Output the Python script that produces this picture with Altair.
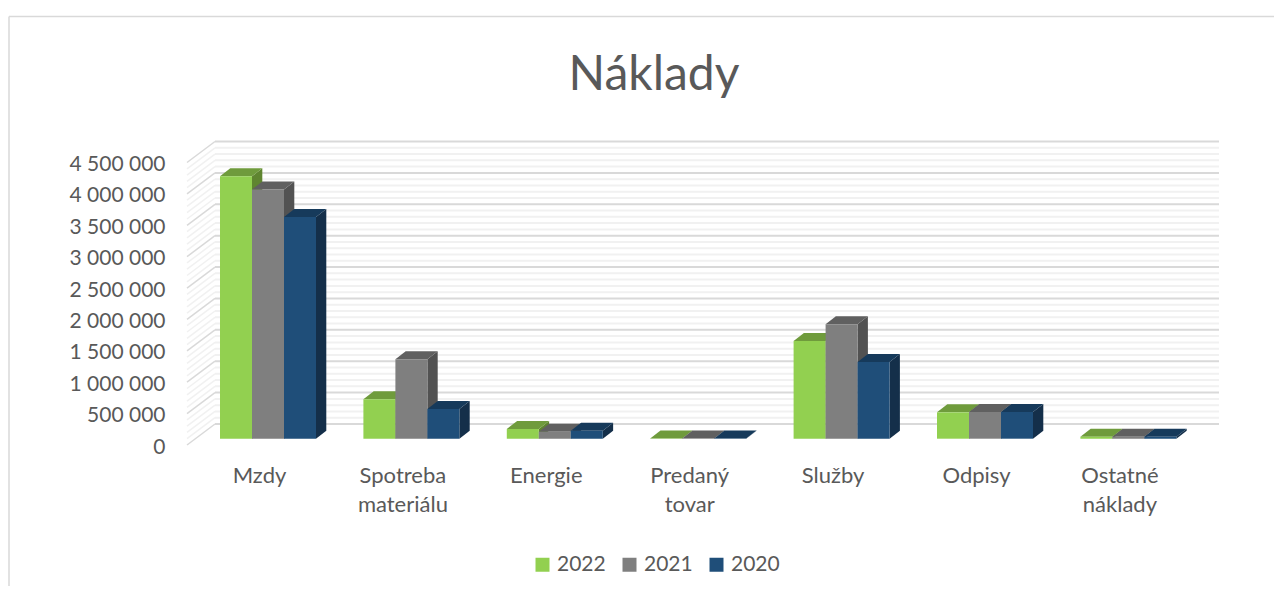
import json
import altair as alt
import pandas as pd

categories = [["Mzdy"], ["Spotreba", "materiálu"], ["Energie"], ["Predaný", "tovar"],
              ["Služby"], ["Odpisy"], ["Ostatné", "náklady"]]
series = ["2022", "2021", "2020"]
v2022 = [4180000, 628000, 155000, 5000, 1556000, 420000, 30000]
v2021 = [3970000, 1265000, 111000, 5000, 1822000, 425000, 30000]
v2020 = [3530000, 473000, 127000, 5000, 1220000, 425000, 30000]
values = {"2022": v2022, "2021": v2021, "2020": v2020}
front_colors = ["#92D050", "#7F7F7F", "#1F4E79"]
top_colors = ["#6F9B3C", "#606060", "#163A5B"]
side_colors = ["#5F8530", "#525252", "#142F4A"]
major_ticks = [0, 500000, 1000000, 1500000, 2000000, 2500000, 3000000, 3500000, 4000000, 4500000]
minor_ticks = [100000 * i for i in range(46) if i % 5 != 0]

TEXT = "#595959"
FONT = "Lato"
PW, PH = 1032, 304            # plot area in px
PX_PER_VALUE = 282.5 / 4500000
PX_PER_SLOT = 143.4


def vpx(p):
    return p / PX_PER_VALUE


def xpx(p):
    return p / PX_PER_SLOT


x_dom = [xpx(187 - 260), xpx(1219 - 260)]
y_dom = [0, vpx(PH)]
xs = alt.Scale(domain=x_dom, nice=False, zero=False)
ys = alt.Scale(domain=y_dom, nice=False, zero=False)

xa = alt.Axis(title=None, values=list(range(7)), domain=False, ticks=False, grid=False,
              labelExpr=json.dumps(categories) + "[datum.value]",
              labelFont=FONT, labelFontSize=22, labelColor=TEXT, labelPadding=20, labelOffset=-1,
              labelLineHeight=29, labelAngle=0, labelAlign="center", labelBaseline="top",
              labelFlush=False, labelOverlap=False)
ya = alt.Axis(title=None, values=major_ticks, domain=False, ticks=False, grid=False,
              labelExpr="replace(format(datum.value, ','), regexp(',', 'g'), ' ')",
              labelFont=FONT, labelFontSize=21, labelColor=TEXT, labelPadding=22, labelOffset=2,
              labelOverlap=False, labelFlush=False)


def X(f):
    return alt.X(f + ":Q", scale=xs, axis=xa)


def Y(f):
    return alt.Y(f + ":Q", scale=ys, axis=ya)


X2 = lambda f: alt.X2(f)
Y2 = lambda f: alt.Y2(f)

# walls
WALL_DX, WALL_DY = xpx(28), vpx(21)
grid_rows = []
for kind, ticks in (("minor", minor_ticks), ("major", major_ticks)):
    for t in ticks:
        grid_rows.append(dict(kind=kind, v=t, back=t + WALL_DY))
grid = pd.DataFrame(grid_rows)
x_left = x_dom[0]
grid["xl"] = x_left
grid["xb"] = x_left + WALL_DX
grid["xr"] = x_dom[1]


def wall(kind, color):
    d = grid[grid.kind == kind]
    back = alt.Chart(d).mark_rule(color=color, strokeWidth=2).encode(
        x=X("xb"), x2=X2("xr"), y=Y("back"))
    side = alt.Chart(d).mark_rule(color=color, strokeWidth=1.5).encode(
        x=X("xl"), x2=X2("xb"), y=Y("v"), y2=Y2("back"))
    return [back, side]


# bars
BAR_W = xpx(32)
BAR_L = xpx(220 - 260)
BASE = vpx(6.3)
DX, DY = xpx(10.3), vpx(8)

layers = wall("minor", "#F1F1F1") + wall("major", "#D9D9D9")

front_scale = alt.Scale(domain=series, range=front_colors)
for si, s in enumerate(series):
    front, sides, tops = [], [], []
    for ci, v in enumerate(values[s]):
        l = ci + BAR_L + si * BAR_W
        r = l + BAR_W
        b, t = BASE, BASE + v
        front.append(dict(series=s, l=l, r=r, b=b, t=t))
        sides += [dict(bar=ci, px=r, lo=b, hi=t),
                  dict(bar=ci, px=r + DX, lo=b + DY, hi=t + DY)]
        tops += [dict(bar=ci, px=l, lo=t, hi=t),
                 dict(bar=ci, px=l + DX, lo=t, hi=t + DY),
                 dict(bar=ci, px=r, lo=t, hi=t + DY),
                 dict(bar=ci, px=r + DX, lo=t + DY, hi=t + DY)]
    for rows, col in ((sides, side_colors[si]), (tops, top_colors[si])):
        layers.append(alt.Chart(pd.DataFrame(rows)).mark_area(color=col, interpolate="linear").encode(
            x=X("px"), y=Y("lo"), y2=Y2("hi"), detail="bar:N"))
    layers.append(alt.Chart(pd.DataFrame(front)).mark_rect().encode(
        x=X("l"), x2=X2("r"), y=Y("b"), y2=Y2("t"),
        fill=alt.Fill("series:N", scale=front_scale, legend=alt.Legend(
            title=None, orient="none", legendX=345, legendY=413, direction="horizontal",
            columns=3, symbolType="square", symbolSize=196, symbolStrokeWidth=0,
            labelFont=FONT, labelFontSize=21, labelColor=TEXT, labelOffset=4,
            columnPadding=13, symbolOpacity=1, values=series))))

# chart frame
layers.append(alt.Chart(pd.DataFrame({"a": [0]})).mark_rule(color="#D9D9D9", strokeWidth=1.5).encode(
    x=alt.value(-178), x2=alt.value(1087), y=alt.value(-124.5)))
layers.append(alt.Chart(pd.DataFrame({"a": [0]})).mark_rule(color="#D9D9D9", strokeWidth=1.5).encode(
    x=alt.value(-178), y=alt.value(-124.5), y2=alt.value(445)))

chart = alt.layer(*layers).properties(
    width=PW, height=PH,
    title=alt.TitleParams("Náklady", font=FONT, fontSize=48, fontWeight="normal", color=TEXT,
                          anchor="middle", dx=-49, offset=-84),
    autosize=alt.AutoSizeParams(type="none"),
    padding={"left": 179, "top": 133, "right": 55, "bottom": 141},
).configure_view(stroke=None)

chart.save("out.html", embed_options={"renderer": "svg", "actions": False})
